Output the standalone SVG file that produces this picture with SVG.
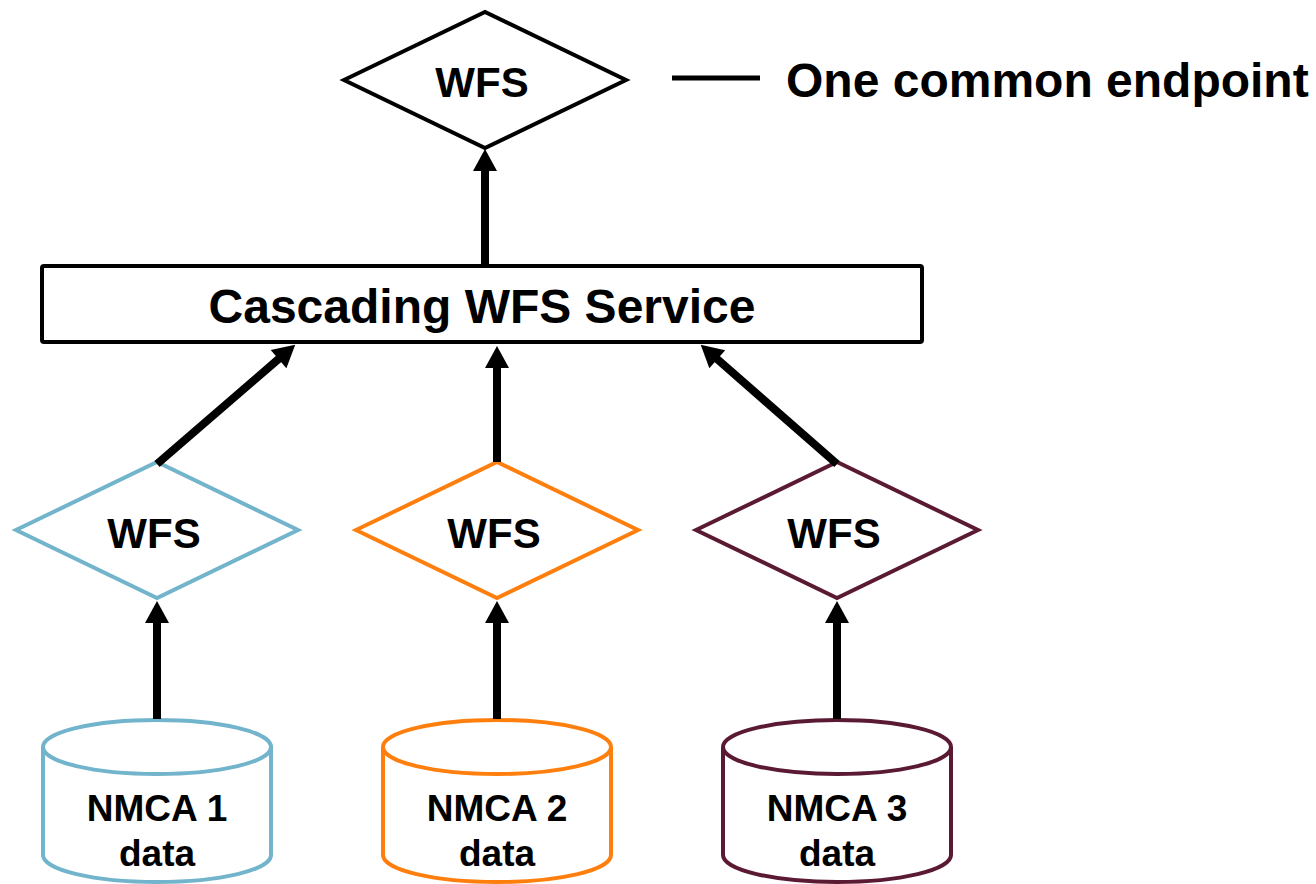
<svg xmlns="http://www.w3.org/2000/svg" width="1316" height="884" viewBox="0 0 1316 884">
<style>
.lbl{font-family:"Liberation Sans",Arial,sans-serif;font-weight:bold;fill:#000;text-anchor:middle}
.wfs{font-size:42px}
.db{font-size:37px}
.node{fill:#fff;stroke-width:4;stroke-linejoin:miter}
.conn{fill:none;stroke:#000;stroke-width:8;marker-end:url(#ah)}
.blue{stroke:#72B4CB}
.orange{stroke:#FF7F0E}
.dark{stroke:#5B1A33}
</style>
<defs>
<marker id="ah" markerUnits="userSpaceOnUse" markerWidth="24" markerHeight="24" viewBox="0 0 22 24" refX="1" refY="12" orient="auto" overflow="visible">
<path d="M0,0 L22,12 L0,24 z" fill="#000"/>
</marker>
</defs>
<rect width="1316" height="884" fill="#fff"/>

<g id="wfs-top">
<polygon class="node" stroke="#000" points="344,80 485,12 626,80 485,148"/>
<text class="lbl wfs" x="482" y="97">WFS</text>
</g>

<g id="legend">
<line x1="672" y1="78" x2="760" y2="78" stroke="#000" stroke-width="5"/>
<text class="lbl" x="786" y="97" style="font-size:48px;text-anchor:start">One common endpoint</text>
</g>

<g id="cascading">
<rect class="node" stroke="#000" x="42" y="266" width="880" height="76" rx="2"/>
<text class="lbl" x="482" y="323" style="font-size:48px">Cascading WFS Service</text>
</g>

<g id="wfs-1">
<polygon class="node blue" points="16,530 157,462 298,530 157,598"/>
<text class="lbl wfs" x="154" y="548">WFS</text>
</g>
<g id="wfs-2">
<polygon class="node orange" points="356,530 497,462 638,530 497,598"/>
<text class="lbl wfs" x="494" y="548">WFS</text>
</g>
<g id="wfs-3">
<polygon class="node dark" points="696,530 837,462 978,530 837,598"/>
<text class="lbl wfs" x="834" y="548">WFS</text>
</g>

<g id="nmca-1">
<path class="node blue" d="M43,747 A114,27 0 0 1 271,747 L271,855 A114,27 0 0 1 43,855 Z"/>
<path class="node blue" fill="none" d="M43,747 A114,27 0 0 0 271,747"/>
<text class="lbl db" x="157" y="821">NMCA 1</text>
<text class="lbl db" x="157" y="866">data</text>
</g>
<g id="nmca-2">
<path class="node orange" d="M383,747 A114,27 0 0 1 611,747 L611,855 A114,27 0 0 1 383,855 Z"/>
<path class="node orange" fill="none" d="M383,747 A114,27 0 0 0 611,747"/>
<text class="lbl db" x="497" y="821">NMCA 2</text>
<text class="lbl db" x="497" y="866">data</text>
</g>
<g id="nmca-3">
<path class="node dark" d="M723,747 A114,27 0 0 1 951,747 L951,855 A114,27 0 0 1 723,855 Z"/>
<path class="node dark" fill="none" d="M723,747 A114,27 0 0 0 951,747"/>
<text class="lbl db" x="837" y="821">NMCA 3</text>
<text class="lbl db" x="837" y="866">data</text>
</g>

<g id="connectors">
<path class="conn" d="M485,266 L485,170"/>
<path class="conn" d="M157,464 L279.3,358.4"/>
<path class="conn" d="M497,462 L497,367"/>
<path class="conn" d="M837,464 L716.5,358.5"/>
<path class="conn" d="M157,719 L157,622"/>
<path class="conn" d="M497,719 L497,622"/>
<path class="conn" d="M837,719 L837,622"/>
</g>
</svg>
